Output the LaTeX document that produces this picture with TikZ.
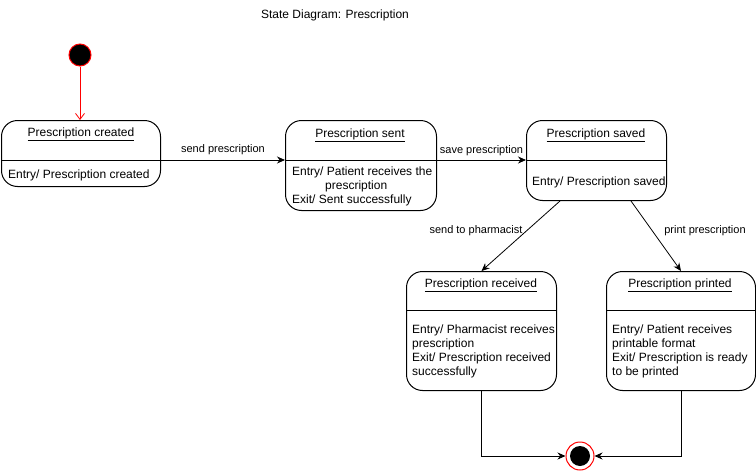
\documentclass[tikz,border=0pt]{standalone}
\usepackage{fontspec}
\setmainfont{Liberation Sans}
\usetikzlibrary{arrows.meta,calc}
\begin{document}
\begin{tikzpicture}[x=1pt,y=-1pt,
  statebox/.style={draw,line width=1pt,rectangle,rounded corners=16pt,anchor=north west,inner sep=0pt},
  stitle/.style={font=\fontsize{12}{14}\selectfont,inner sep=0pt},
  sbody/.style={font=\fontsize{12}{14}\selectfont,align=left,anchor=west,inner sep=0pt},
  elabel/.style={font=\fontsize{11}{13}\selectfont,inner sep=0pt},
  arr/.style={draw,line width=0.8pt,-{Stealth[length=8pt,width=7pt]}},
  divider/.style={draw,line width=1pt}]
\useasboundingbox (0,0) rectangle (756,471);
\node[font=\fontsize{12}{14}\selectfont] (title) at (335,15) {State Diagram: Prescription};
% initial
\node[circle,fill=black,draw=red,line width=1pt,minimum size=22pt,inner sep=0pt] (init) at (80,55) {};
% states
\node[statebox,minimum width=159pt,minimum height=66pt] (s1) at (1,120) {};
\node[statebox,minimum width=151pt,minimum height=90pt] (s2) at (285,120) {};
\node[statebox,minimum width=140pt,minimum height=80pt] (s3) at (526,120) {};
\node[statebox,minimum width=150pt,minimum height=119pt] (s4) at (406,271) {};
\node[statebox,minimum width=149pt,minimum height=119pt] (s5) at (606,271) {};
% dividers
\draw[divider] ($(s1.north west)+(0,40)$) -- ($(s1.north east)+(0,40)$);
\draw[divider] ($(s2.north west)+(0,40)$) -- ($(s2.north east)+(0,40)$);
\draw[divider] ($(s3.north west)+(0,40)$) -- ($(s3.north east)+(0,40)$);
\draw[divider] ($(s4.north west)+(0,39)$) -- ($(s4.north east)+(0,39)$);
\draw[divider] ($(s5.north west)+(0,39)$) -- ($(s5.north east)+(0,39)$);
% titles
\node[stitle] (t1) at (81,134) {\underline{Prescription created}};
\node[stitle] (t2) at (360,135) {\underline{Prescription sent}};
\node[stitle] (t3) at (596,135) {\underline{Prescription saved}};
\node[stitle] (t4) at (481,285) {\underline{Prescription received}};
\node[stitle] (t5) at (680,285) {\underline{Prescription printed}};
% bodies
\node[sbody] (b1) at (8,175) {Entry/ Prescription created};
\node[sbody] (b2) at (292,186) {Entry/ Patient receives the\\\hspace*{33pt}prescription\\Exit/ Sent successfully};
\node[sbody] (b3) at (532,182) {Entry/ Prescription saved};
\node[sbody] (b4) at (412,351) {Entry/ Pharmacist receives\\prescription\\Exit/ Prescription received\\successfully};
\node[sbody] (b5) at (612,351) {Entry/ Patient receives\\printable format\\Exit/ Prescription is ready\\to be printed};
% final
\node[circle,draw=red,fill=white,line width=1pt,minimum size=28pt,inner sep=0pt] (fin) at (580,456) {};
\node[circle,fill=black,minimum size=20pt,inner sep=0pt] (fincore) at (fin) {};
% edges
\draw[draw=red,line width=0.8pt,-{Straight Barb[length=6pt,width=9pt]}] (init) -- (s1.north -| init);
\draw[arr] ($(s1.north east)+(0,40)$) -- ($(s2.north west)+(0,40)$) node[elabel,midway,above=5pt] (l1) {send prescription};
\draw[arr] ($(s2.north east)+(0,40)$) -- ($(s3.north west)+(0,40)$) node[elabel,midway,above=4pt] (l2) {save prescription};
\draw[arr] ($(s3.south west)+(34,0)$) -- (s4.north);
\draw[arr] ($(s3.south west)+(105,0)$) -- (s5.north);
\node[elabel] (l3) at (476,231) {send to pharmacist};
\node[elabel] (l4) at (705,231) {print prescription};
\draw[arr] (s4.south) |- (fin.west);
\draw[arr] (s5.south) |- (fin.east);
\end{tikzpicture}
\end{document}
